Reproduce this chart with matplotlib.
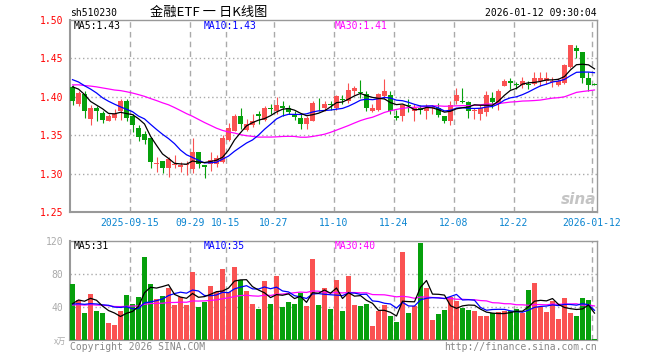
import matplotlib
matplotlib.use("Agg")
import matplotlib.pyplot as plt
import numpy as np
import pandas as pd

plt.rcParams['font.family'] = ['DejaVu Sans Mono', 'Noto Sans CJK SC']

# daily bars, 2025-09-01 .. 2026-01-12 (88 sessions)
open_ = [1.413, 1.390, 1.404, 1.371, 1.386, 1.379, 1.369, 1.372, 1.381, 1.394,
         1.375, 1.360, 1.352, 1.346, 1.313, 1.316, 1.307, 1.311, 1.309, 1.311,
         1.306, 1.328, 1.311, 1.312, 1.312, 1.315, 1.344, 1.356, 1.375, 1.357,
         1.363, 1.378, 1.370, 1.386, 1.381, 1.388, 1.386, 1.377, 1.373, 1.364,
         1.369, 1.391, 1.385, 1.391, 1.386, 1.397, 1.394, 1.407, 1.406, 1.404,
         1.381, 1.383, 1.401, 1.402, 1.375, 1.375, 1.389, 1.381, 1.385, 1.381,
         1.385, 1.386, 1.375, 1.368, 1.394, 1.394, 1.393, 1.382, 1.377, 1.380,
         1.399, 1.390, 1.414, 1.420, 1.416, 1.415, 1.417, 1.417, 1.420, 1.421,
         1.419, 1.416, 1.418, 1.439, 1.464, 1.458, 1.424, 1.417]
high = [1.415, 1.407, 1.408, 1.389, 1.388, 1.381, 1.378, 1.384, 1.397, 1.397,
        1.377, 1.363, 1.355, 1.348, 1.321, 1.316, 1.322, 1.324, 1.315, 1.317,
        1.347, 1.328, 1.311, 1.328, 1.324, 1.350, 1.366, 1.378, 1.385, 1.371,
        1.378, 1.382, 1.388, 1.390, 1.400, 1.394, 1.389, 1.381, 1.377, 1.375,
        1.394, 1.398, 1.395, 1.395, 1.402, 1.402, 1.418, 1.414, 1.422, 1.407,
        1.390, 1.405, 1.423, 1.407, 1.383, 1.391, 1.397, 1.390, 1.389, 1.391,
        1.389, 1.392, 1.375, 1.394, 1.412, 1.411, 1.395, 1.385, 1.389, 1.407,
        1.406, 1.410, 1.423, 1.425, 1.419, 1.426, 1.421, 1.432, 1.432, 1.432,
        1.426, 1.425, 1.443, 1.468, 1.468, 1.458, 1.432, 1.418]
low = [1.389, 1.388, 1.373, 1.363, 1.368, 1.366, 1.368, 1.370, 1.370, 1.368,
       1.354, 1.343, 1.339, 1.307, 1.302, 1.301, 1.296, 1.307, 1.302, 1.298,
       1.301, 1.307, 1.294, 1.304, 1.309, 1.314, 1.342, 1.355, 1.358, 1.355,
       1.361, 1.364, 1.368, 1.378, 1.377, 1.375, 1.378, 1.370, 1.358, 1.358,
       1.368, 1.381, 1.381, 1.383, 1.383, 1.391, 1.392, 1.402, 1.399, 1.382,
       1.380, 1.382, 1.397, 1.378, 1.370, 1.368, 1.380, 1.369, 1.378, 1.371,
       1.377, 1.374, 1.366, 1.363, 1.390, 1.392, 1.373, 1.371, 1.370, 1.375,
       1.385, 1.383, 1.414, 1.410, 1.410, 1.411, 1.410, 1.415, 1.414, 1.417,
       1.413, 1.414, 1.417, 1.438, 1.450, 1.418, 1.407, 1.415]
close = [1.394, 1.405, 1.381, 1.385, 1.381, 1.370, 1.375, 1.378, 1.395, 1.373,
         1.363, 1.348, 1.344, 1.315, 1.314, 1.307, 1.319, 1.312, 1.311, 1.312,
         1.328, 1.312, 1.309, 1.318, 1.320, 1.347, 1.359, 1.375, 1.365, 1.365,
         1.368, 1.375, 1.385, 1.384, 1.389, 1.386, 1.380, 1.374, 1.364, 1.373,
         1.392, 1.390, 1.390, 1.389, 1.401, 1.396, 1.409, 1.411, 1.405, 1.386,
         1.385, 1.403, 1.407, 1.381, 1.373, 1.389, 1.388, 1.385, 1.383, 1.386,
         1.386, 1.376, 1.369, 1.389, 1.402, 1.393, 1.381, 1.383, 1.386, 1.402,
         1.393, 1.408, 1.421, 1.418, 1.415, 1.421, 1.416, 1.424, 1.424, 1.425,
         1.421, 1.420, 1.442, 1.467, 1.459, 1.424, 1.416, 1.416]
volume = [67.9, 48.5, 33.1, 56.2, 35.1, 33.1, 21.0, 18.2, 35.1, 54.5,
          44.0, 52.1, 101.0, 67.9, 49.7, 53.3, 63.0, 42.4, 51.7, 42.4,
          82.4, 40.0, 46.5, 65.4, 58.6, 86.1, 58.0, 88.9, 72.7, 59.8,
          44.0, 37.6, 71.9, 43.6, 78.0, 40.0, 46.0, 43.6, 57.4, 41.2,
          98.6, 42.4, 63.4, 38.0, 72.7, 35.1, 77.6, 42.4, 41.2, 44.0,
          17.0, 35.1, 42.4, 29.1, 21.8, 106.7, 32.7, 41.2, 117.0, 63.0,
          24.2, 31.5, 36.4, 52.5, 47.3, 39.2, 36.4, 35.1, 29.1, 29.1,
          33.1, 33.9, 35.1, 35.1, 37.2, 33.1, 60.6, 69.1, 40.4, 33.9,
          47.3, 25.0, 50.5, 33.1, 29.1, 50.5, 48.9, 1.2]

# sessions before the window, guessed from where the MA lines start
prev_close = [1.402, 1.410, 1.405, 1.412, 1.411, 1.415, 1.420, 1.418, 1.417,
              1.414, 1.410, 1.412, 1.400, 1.393, 1.395, 1.396, 1.420, 1.428,
              1.432, 1.432, 1.435, 1.430, 1.428, 1.432, 1.433, 1.420, 1.416,
              1.430, 1.405]
prev_volume = [38, 45, 40, 52, 36, 41, 47, 39, 44, 35, 48, 42, 37, 43, 50,
               38, 41, 40, 45, 35, 45, 40, 48, 39, 43.9, 26, 40.6, 38.7, 46.8]

tick_idx = [10, 20, 26, 34, 44, 54, 64, 74, 87]
tick_labels = ["2025-09-15", "09-29", "10-15", "10-27", "11-10", "11-24",
               "12-08", "12-22", "2026-01-12"]
price_ticks = [1.25, 1.30, 1.35, 1.40, 1.45, 1.50]
vol_ticks = [40, 80, 120]

UP = '#fa5252'
DOWN = '#06a00c'
GRID = '#aaaaaa'
FRAME = '#999999'

n = len(close)
x = np.arange(n)
o = np.array(open_)
c = np.array(close)
up = c >= o
colors = np.where(up, UP, DOWN)

cs = pd.Series(prev_close + close)
vs = pd.Series(prev_volume + volume)
k = len(prev_close)
ma_p = {w: cs.rolling(w).mean().values[k:] for w in (5, 10, 30)}
ma_v = {w: vs.rolling(w).mean().values[k:] for w in (5, 10, 30)}
ma_col = {5: 'black', 10: '#0000ff', 30: '#ff00ff'}

fig = plt.figure(figsize=(6.6, 3.6), dpi=100)
W, H = 660.0, 360.0
ax1 = fig.add_axes([70 / W, 148 / H, 527 / W, 192 / H])
ax2 = fig.add_axes([70 / W, 20 / H, 527 / W, 99 / H])

grid_x = np.array(tick_idx) - 0.42
for ax in (ax1, ax2):
    ax.set_xlim(-0.42, 87.42)
    for s in ax.spines.values():
        s.set_color(FRAME)
        s.set_linewidth(1)
    ax.spines['left'].set_linewidth(1.5)
    ax.spines['bottom'].set_linewidth(1.5)
    for gx in grid_x:
        ax.axvline(gx, color=GRID, lw=1, ls=(0, (4, 3)), zorder=0)
    ax.tick_params(length=0, labelsize=7)

# candles
ax1.vlines(x, low, high, colors=colors, lw=0.8, zorder=2)
body = np.maximum(np.abs(c - o), 0.0012)
ax1.bar(x, body, bottom=np.minimum(o, c), width=0.82, color=colors, zorder=3)
for w in (30, 10, 5):
    ax1.plot(x, ma_p[w], color=ma_col[w], lw=0.9, zorder=4)
ax1.set_ylim(1.25, 1.50)
ax1.set_yticks(price_ticks)
ax1.set_yticklabels([f"{t:.2f}" for t in price_ticks], color='#ff0000')
ax1.tick_params(axis='y', pad=5)
for t in price_ticks[1:-1]:
    ax1.axhline(t, color=GRID, lw=1, ls=(0, (1, 2)), zorder=0)
ax1.set_xticks(grid_x)
ax1.set_xticklabels(tick_labels, color='#0a84d0')
ax1.tick_params(axis='x', pad=4)

# volume
ax2.bar(x, volume, width=0.82, color=colors, zorder=3)
for w in (30, 10, 5):
    ax2.plot(x, ma_v[w], color=ma_col[w], lw=0.9, zorder=4)
ax2.set_ylim(0, 120)
ax2.set_yticks(vol_ticks)
ax2.set_yticklabels([str(t) for t in vol_ticks], color='#aaaaaa')
ax2.tick_params(axis='y', pad=5)
for t in (40, 80):
    ax2.axhline(t, color=GRID, lw=1, ls=(0, (1, 2)), zorder=0)
ax2.set_xticks([])


def px(xp, yp, s, **kw):
    fig.text(xp / W, 1 - yp / H, s, fontsize=kw.pop('size', 7), va='center', **kw)


px(70, 13, "sh510230")
px(209, 12, "金融ETF 一 日K线图", size=9.5, ha='center',
   family=['Noto Sans CJK SC', 'DejaVu Sans'])
px(597, 13, "2026-01-12 09:30:04", ha='right')
px(74, 26, "MA5:1.43", color='black')
px(204, 26, "MA10:1.43", color='#0000ff')
px(335, 26, "MA30:1.41", color='#ff00ff')
px(74, 246, "MA5:31", color='black')
px(204, 246, "MA10:35", color='#0000ff')
px(335, 246, "MA30:40", color='#ff00ff')
px(66, 341, "x万", size=6, ha='right', color='#aaaaaa',
   family=['Noto Sans CJK SC', 'DejaVu Sans'])
px(70, 347, "Copyright 2026 SINA.COM", color='#888888')
px(597, 347, "http://finance.sina.com.cn", ha='right', color='#888888')
px(596, 199, "sina", size=11, ha='right', color='#c4c4c4',
   style='italic', weight='bold', family='DejaVu Sans')

fig.savefig("out.png", dpi=100)
